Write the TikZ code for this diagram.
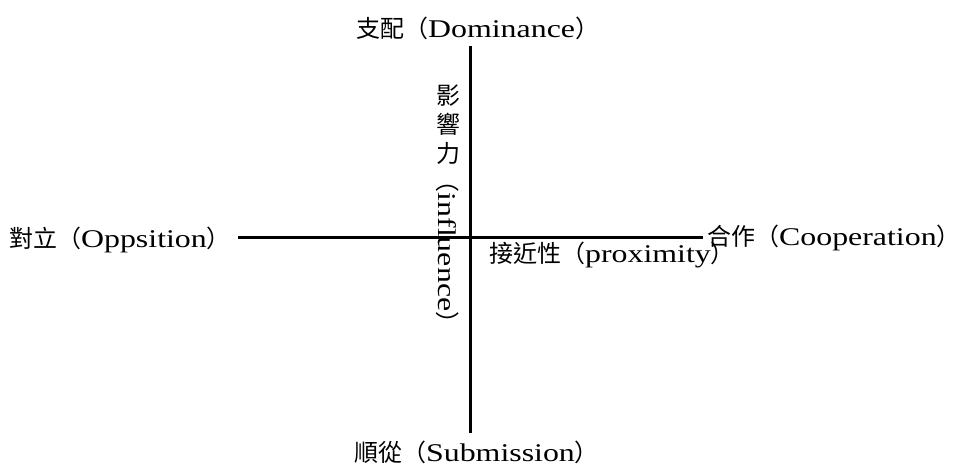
\documentclass[tikz,border=0pt]{standalone}
\usepackage{fontspec}
\setmainfont{Liberation Serif}[FakeStretch=1.25]
\newfontfamily\cjk{Noto Sans CJK TC}[Scale=0.94]
\tikzset{
  lbl/.style={font=\fontsize{25.5bp}{29bp}\selectfont, inner sep=0pt, anchor=base west},
  axisline/.style={line width=2.4bp, draw=black}
}
\begin{document}
\begin{tikzpicture}[x=1bp,y=-1bp]
\useasboundingbox (0,0) rectangle (953,464);
\coordinate (vtop) at (470.5,46);
\coordinate (vbot) at (470.5,433);
\coordinate (hleft) at (238,237.5);
\coordinate (hright) at (703,237.5);
\draw[axisline] (vtop) -- (vbot);
\draw[axisline] (hleft) -- (hright);
\node[lbl] (dom) at (356,38) {{\cjk 支配（}Dominance{\cjk ）}};
\node[lbl] (opp) at (9,248) {{\cjk 對立（}Oppsition{\cjk ）}};
\node[lbl] (coop) at (707,246) {{\cjk 合作（}Cooperation{\cjk ）}};
\node[lbl] (prox) at (489,263) {{\cjk 接近性（}proximity{\cjk ）}};
\node[lbl] (sub) at (354,461) {{\cjk 順從（}Submission{\cjk ）}};
\node[font=\fontsize{25.5bp}{29bp}\selectfont, inner sep=0pt, align=center] (infl) at (448,125) {\cjk 影\\\cjk 響\\\cjk 力};
\node[font=\fontsize{25.5bp}{29bp}\selectfont, inner sep=0pt, rotate=-90] (inflen) at (448,252) {{\cjk （}influence{\cjk ）}};
\end{tikzpicture}
\end{document}
